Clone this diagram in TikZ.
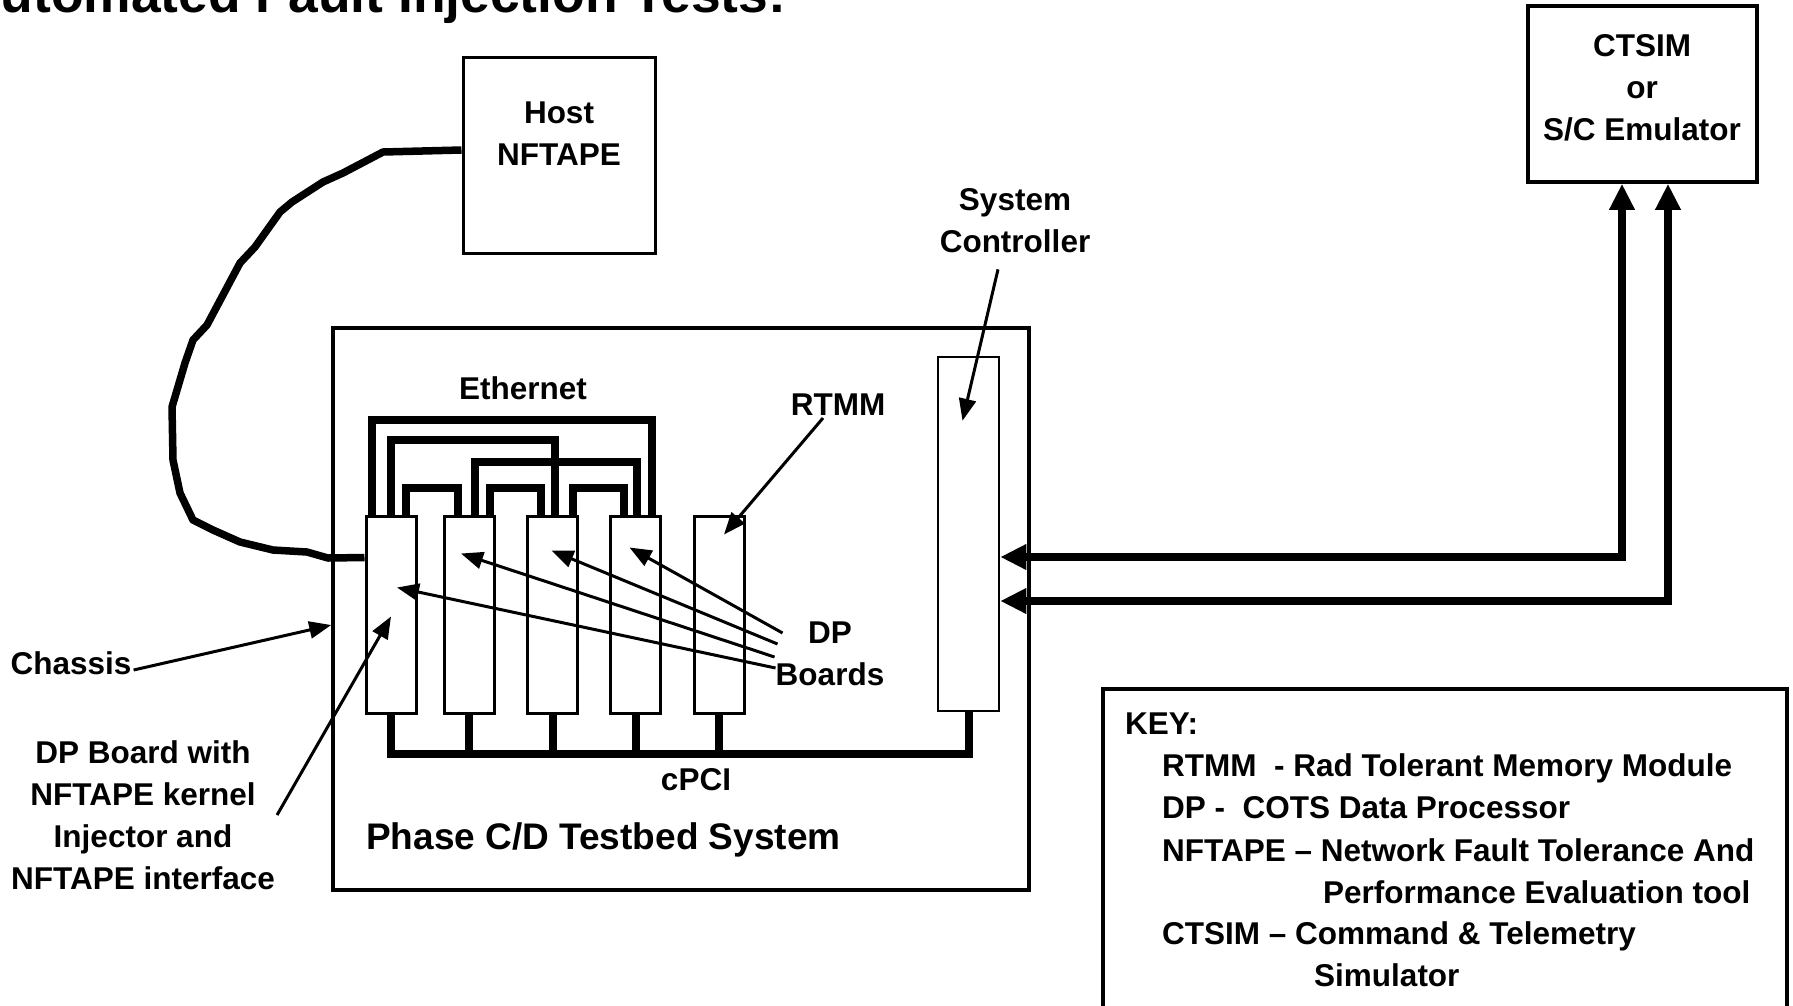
\documentclass[tikz,border=0pt]{standalone}
\usepackage{fontspec}
\setmainfont{Liberation Sans}
\usetikzlibrary{arrows.meta}

\begin{document}
\begin{tikzpicture}[x=1pt,y=-1pt,
  lbl/.style={font=\bfseries\fontsize{31.5}{42}\selectfont, inner sep=2pt, align=center},
  keytxt/.style={font=\bfseries\fontsize{31.5}{42}\selectfont, inner sep=0pt, anchor=base west},
  box/.style={draw, line width=3pt, inner sep=0pt},
  board/.style={box, minimum width=50pt, minimum height=197pt},
  wire/.style={line width=8pt},
  bus/.style={line width=8pt},
  ptr/.style={-{Triangle[length=22pt,width=17pt]}, line width=3pt},
  link/.style={{Triangle[length=26pt,width=24pt]}-{Triangle[length=26pt,width=24pt]}, line width=8pt},
  cable/.style={line width=7.5pt, line join=round}]
\useasboundingbox (0,0) rectangle (1793,1005);

\node[keytxt, font=\bfseries\fontsize{53.4}{60}\selectfont] (headline) at (-38,12) {Automated Fault Injection Tests:};

% host and emulator
\node[box, minimum width=192pt, minimum height=196pt] (host) at (559,155) {};
\node[lbl] (hostlbl) at (559,134) {Host\\NFTAPE};
\node[box, line width=3.5pt, minimum width=229pt, minimum height=176pt] (ctsim) at (1642.5,94) {};
\node[lbl] (ctsimlbl) at (1642,88) {CTSIM\\or\\S/C Emulator};

% testbed
\node[box, line width=3.5pt, minimum width=696pt, minimum height=562pt] (chassis) at (681,609) {};
\node[board] (b1) at (391,614.5) {};
\node[board] (b2) at (469,614.5) {};
\node[board] (b3) at (552.5,614.5) {};
\node[board] (b4) at (635.5,614.5) {};
\node[board] (rtmm) at (719,614.5) {};
\node[box, line width=2.5pt, minimum width=61pt, minimum height=354pt] (sysctl) at (968.5,534) {};

% ethernet
\draw[wire] ([xshift=7pt]b1.north west) -- ++(0,-95) -| ([xshift=43pt]b4.north west);
\draw[wire] ([xshift=26pt]b1.north west) -- ++(0,-75) -| ([xshift=29pt]b3.north west);
\draw[wire] ([xshift=32pt]b2.north west) -- ++(0,-53) -| ([xshift=28pt]b4.north west);
\draw[wire] ([xshift=41pt]b1.north west) -- ++(0,-27) -| ([xshift=15pt]b2.north west);
\draw[wire] ([xshift=47pt]b2.north west) -- ++(0,-27) -| ([xshift=15pt]b3.north west);
\draw[wire] ([xshift=47pt]b3.north west) -- ++(0,-27) -| ([xshift=15pt]b4.north west);
\node[lbl] (ether) at (523,388) {Ethernet};

% cPCI
\coordinate (busL) at ([yshift=-39pt]b1.south);
\draw[bus] (b1.south) -- (busL) -| (sysctl.south);
\draw[bus] (b2.south) -- (b2.south |- busL);
\draw[bus] (b3.south) -- (b3.south |- busL);
\draw[bus] (b4.south) -- (b4.south |- busL);
\draw[bus] (rtmm.south) -- (rtmm.south |- busL);
\node[lbl] (cpci) at (696,780) {cPCI};
\node[lbl, font=\bfseries\fontsize{37}{44}\selectfont, anchor=west] (phase) at (364,840) {Phase C/D Testbed System};

% host cable
\draw[cable] ([yshift=5pt]host.west) -- (383,152) -- (343,173) -- (323,182) -- (292,202) -- (280,212)
  -- (255,247) -- (240,263) -- (207,325) -- (193,340) -- (185,363) -- (172,407) -- (173,460)
  -- (180,493) -- (193,520) -- (213,530) -- (240,542) -- (273,550) -- (307,552) -- (328,558)
  -- ([yshift=57pt]b1.west);

% emulator links
\coordinate (c1) at (1622,557);
\coordinate (c2) at (1668,601);
\draw[link] (sysctl.east |- c1) -- (c1) -- (c1 |- ctsim.south);
\draw[link] (sysctl.east |- c2) -- (c2) -- (c2 |- ctsim.south);

% callouts
\node[lbl] (rtmmlbl) at (838,405) {RTMM};
\draw[ptr] ([xshift=-15pt]rtmmlbl.south) -- ([xshift=5pt,yshift=80pt]rtmm.center);
\node[lbl] (sclbl) at (1015,221) {System\\Controller};
\draw[ptr] ([xshift=-17pt,yshift=-14pt]sclbl.south) -- ([xshift=-6pt,yshift=-65pt]sysctl.north);
\node[lbl] (dplbl) at (830,654) {DP\\Boards};
\draw[ptr] ([xshift=9pt,yshift=21pt]dplbl.west) -- ([xshift=-6pt,yshift=67pt]b4.center);
\draw[ptr] ([xshift=4pt,yshift=10pt]dplbl.west) -- ([xshift=-1pt,yshift=64pt]b3.center);
\draw[ptr] ([xshift=1pt,yshift=-3pt]dplbl.west) -- ([xshift=-8pt,yshift=61pt]b2.center);
\draw[ptr] ([xshift=2pt,yshift=-14pt]dplbl.west) -- ([xshift=6pt,yshift=27pt]b1.center);
\node[lbl] (chlbl) at (71,663) {Chassis};
\draw[ptr] ([yshift=-7pt]chlbl.east) -- ([yshift=-16pt]chassis.west);
\node[lbl] (dpnote) at (143,815) {DP Board with\\NFTAPE kernel\\Injector and\\NFTAPE interface};
\draw[ptr] (dpnote.east) -- ([yshift=-2pt]b1.center);

% key
\node[box, line width=3.5pt, minimum width=684pt, minimum height=321pt] (key) at (1445,849.5) {};
\node[keytxt] (keyhd) at (1125,734) {KEY:};
\node[keytxt] (k1) at (1162,776) {RTMM\ \ - Rad Tolerant Memory Module};
\node[keytxt] (k2) at (1162,818) {DP -\ \ COTS Data Processor};
\node[keytxt] (k3) at (1162,861) {NFTAPE – Network Fault Tolerance And};
\node[keytxt] (k3b) at (1323,903) {Performance Evaluation tool};
\node[keytxt] (k4) at (1162,944) {CTSIM – Command \& Telemetry};
\node[keytxt] (k4b) at (1314,986) {Simulator};
\end{tikzpicture}
\end{document}
